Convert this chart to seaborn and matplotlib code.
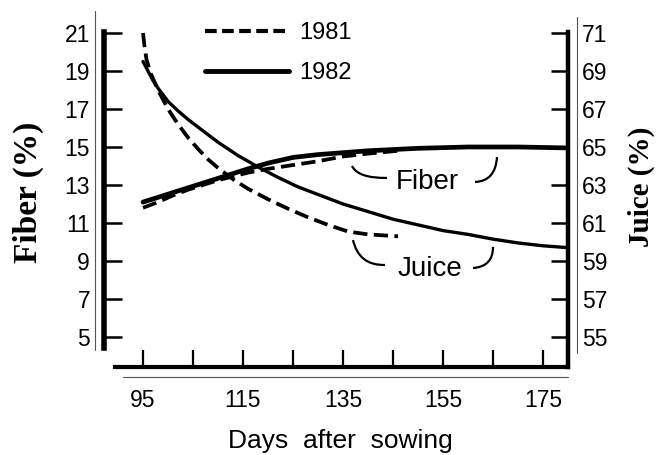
import matplotlib
matplotlib.use("Agg")
import matplotlib.pyplot as plt
from matplotlib.lines import Line2D
from matplotlib.path import Path
from matplotlib.patches import PathPatch
import pandas as pd
import seaborn as sns

# Fiber content (%) by days after sowing
fiber_days_1981 = [95, 98, 101, 104, 107, 110, 113, 116, 120, 125, 130, 135, 140, 146]
fiber_1981 = [11.8, 12.1, 12.45, 12.75, 13.0, 13.25, 13.45, 13.65, 13.85, 14.05, 14.25, 14.5, 14.65, 14.8]
fiber_days_1982 = [95, 98, 101, 104, 107, 110, 113, 116, 120, 125, 130, 135, 140, 150, 160, 170, 180]
fiber_1982 = [12.1, 12.35, 12.6, 12.85, 13.1, 13.35, 13.6, 13.85, 14.15, 14.45, 14.6, 14.7, 14.8, 14.93, 15.0, 15.0, 14.95]

# Juice content (%) by days after sowing
juice_days_1981 = [95, 95.3, 95.7, 96.5, 98, 100, 102, 104, 106, 108, 110, 113, 116, 120,
                   124, 128, 132, 136, 140, 146]
juice_1981 = [71.0, 70.3, 69.6, 68.9, 68.0, 67.0, 66.2, 65.5, 64.9, 64.35, 63.9, 63.3, 62.8, 62.25,
              61.75, 61.3, 60.9, 60.55, 60.4, 60.3]
juice_days_1982 = [95, 96, 97, 98, 100, 102, 104, 107, 110, 114, 118, 122, 126, 130, 135, 140,
                   145, 150, 155, 160, 165, 170, 175, 180]
juice_1982 = [69.5, 69.0, 68.5, 68.1, 67.4, 66.9, 66.45, 65.85, 65.25, 64.55, 63.95, 63.4, 62.9, 62.5,
              62.0, 61.6, 61.2, 60.9, 60.6, 60.4, 60.15, 59.95, 59.8, 59.7]

years = ["1981", "1982"]
x_major = [95, 115, 135, 155, 175]
x_minor = [105, 125, 145, 165]
fiber_ticks = list(range(5, 22, 2))
juice_ticks = list(range(55, 72, 2))

sns.set_style("white")
plt.rcParams["font.family"] = ["Liberation Sans", "DejaVu Sans"]
plt.rcParams.update({"text.color": "black", "axes.labelcolor": "black",
                     "xtick.color": "black", "ytick.color": "black"})

W, H = 658, 455
fig = plt.figure(figsize=(W / 100, H / 100), dpi=100)
ax = fig.add_axes([104 / W, 1 - 367 / H, (568 - 104) / W, (367 - 29) / H])
ax2 = ax.twinx()

dash = (0, (3.8, 1.7))
line_kw = dict(color="black", estimator=None, sort=False,
               solid_joinstyle="round", dash_joinstyle="round")
fdf81 = pd.DataFrame({"day": fiber_days_1981, "val": fiber_1981})
fdf82 = pd.DataFrame({"day": fiber_days_1982, "val": fiber_1982})
jdf81 = pd.DataFrame({"day": juice_days_1981, "val": juice_1981})
jdf82 = pd.DataFrame({"day": juice_days_1982, "val": juice_1982})

sns.lineplot(data=fdf81, x="day", y="val", ax=ax, lw=2.7, linestyle=dash, **line_kw)
sns.lineplot(data=fdf82, x="day", y="val", ax=ax, lw=3.4, **line_kw)
sns.lineplot(data=jdf81, x="day", y="val", ax=ax2, lw=2.7, linestyle=dash, **line_kw)
sns.lineplot(data=jdf82, x="day", y="val", ax=ax2, lw=2.4, **line_kw)

ax.set_xlim(87.2, 180)
ax.set_ylim(3.42, 21.21)
ax2.set_ylim(53.42, 71.21)
ax.set_xlabel("")
ax.set_ylabel("")
ax2.set_ylabel("")

ax.set_xticks(x_major)
ax.set_xticks(x_minor, minor=True)
ax.set_yticks(fiber_ticks)
ax2.set_yticks(juice_ticks)
ax.tick_params(axis="x", which="both", direction="in", length=12, width=1.6,
               pad=16, labelsize=16.5, bottom=True)
ax.tick_params(axis="y", direction="in", length=13, width=1.8, pad=10,
               labelsize=16.5, left=True, right=False)
ax2.tick_params(axis="y", direction="in", length=12, width=1.8, pad=10,
                labelsize=16.5, right=True, left=False)

for s in ["top", "right"]:
    ax.spines[s].set_visible(False)
for s in ["top", "left", "bottom"]:
    ax2.spines[s].set_visible(False)
ax.spines["left"].set_linewidth(4.0)
ax.spines["left"].set_bounds(4.4, 21.05)
ax.spines["bottom"].set_linewidth(3.0)
ax.spines["bottom"].set_bounds(89.4, 180)
ax2.spines["right"].set_linewidth(3.2)
ax2.spines["right"].set_bounds(53.42, 71.05)
for sp in list(ax.spines.values()) + list(ax2.spines.values()):
    sp.set_color("black")

# curved brackets around the series labels
def bracket(p0, c, p1):
    path = Path([p0, c, p1], [Path.MOVETO, Path.CURVE3, Path.CURVE3])
    ax.add_patch(PathPatch(path, fill=False, lw=1.6, color="black"))

bracket((136.8, 14.0), (138.0, 13.35), (143.8, 13.37))
bracket((161.4, 13.16), (165.5, 13.2), (165.8, 14.47))
bracket((137.0, 10.1), (138.2, 8.75), (143.4, 8.79))
bracket((161.0, 8.63), (165.0, 8.7), (165.0, 9.74))
ax.text(151.8, 13.16, "Fiber", ha="center", va="center", fontsize=20)
ax.text(152.4, 8.58, "Juice", ha="center", va="center", fontsize=20)

handles = [Line2D([], [], color="black", lw=3.0, linestyle=(0, (2.8, 1.3))),
           Line2D([], [], color="black", lw=3.5)]
ax.legend(handles, years, loc="upper left", bbox_to_anchor=(205 / W, 1 - 22 / H),
          bbox_transform=fig.transFigure, frameon=False, fontsize=17,
          handlelength=3.55, handletextpad=0.45, labelspacing=0.78,
          borderpad=0, borderaxespad=0)

# axis titles
fig.text(28 / W, 1 - 192 / H, "Fiber (%)", rotation=90, ha="center", va="center",
         fontsize=24, fontweight="bold", family="Liberation Serif")
fig.text(641 / W, 1 - 187 / H, "Juice (%)", rotation=90, ha="center", va="center",
         fontsize=21, fontweight="bold", family="Liberation Serif")
fig.text(340 / W, 1 - 441 / H, "Days  after  sowing", ha="center", va="center",
         fontsize=19)

# thin outer frame lines
frame_kw = dict(color="#555555", lw=0.8)
fig.add_artist(Line2D([95 / W, 95 / W], [1 - 11 / H, 1 - 350 / H], **frame_kw))
fig.add_artist(Line2D([577 / W, 577 / W], [1 - 17 / H, 1 - 353 / H], **frame_kw))
fig.add_artist(Line2D([123 / W, 568 / W], [1 - 377 / H, 1 - 377 / H], **frame_kw))

fig.savefig("out.png", dpi=100)
